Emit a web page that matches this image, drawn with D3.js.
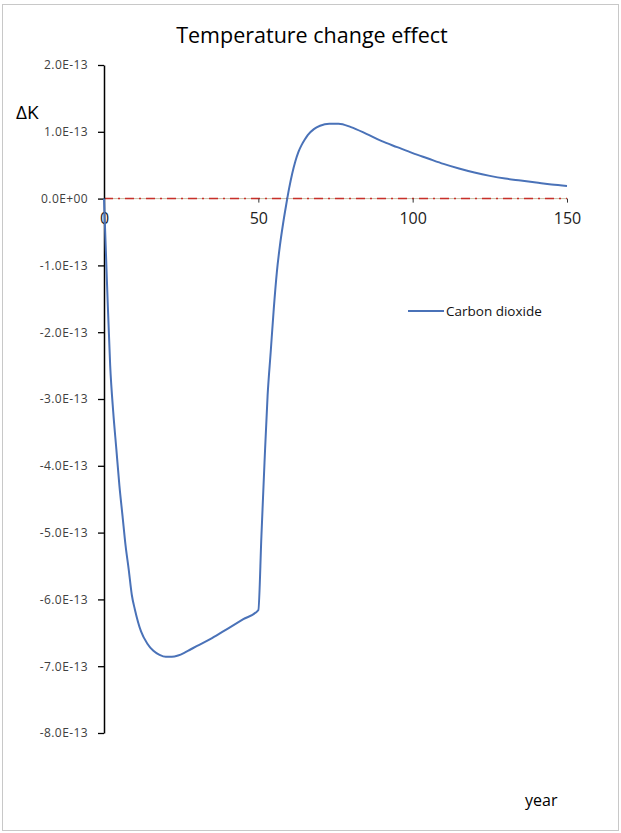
<!DOCTYPE html>
<html>
<head>
<meta charset="utf-8">
<script src="https://cdn.jsdelivr.net/npm/d3@7"></script>
<style>
	body { margin: 0; background: #fff; }
	svg { display: block; font-family: "Open Sans", "DejaVu Sans", sans-serif; }
</style>
</head>
<body>
<svg id="chart"></svg>
<script>
// values, in units of 1e-13 K
let unit = 1e-13;
let years = [0, 1, 2, 3, 4, 5, 6, 7, 8, 9, 10, 12, 14, 16, 18, 20, 22, 24, 26, 28, 30, 35, 40, 45, 50,
	51, 52, 53, 54, 55, 56, 57, 58, 59, 60, 61, 62, 63, 64, 65, 66, 68, 70, 73, 76, 80, 85, 90, 95, 100,
	105, 110, 115, 120, 125, 130, 135, 140, 145, 150];
let co2Values = [0, -1.3, -2.5, -3.2, -3.75, -4.3, -4.75, -5.2, -5.55, -5.93, -6.15, -6.48, -6.66, -6.77, -6.83, -6.86, -6.86, -6.84, -6.8, -6.75, -6.7, -6.58, -6.44, -6.3, -6.16,
	-5.05, -3.95, -2.95, -2.3, -1.65, -1.1, -0.7, -0.38, -0.1, 0.16, 0.38, 0.56, 0.7, 0.8, 0.88, 0.95, 1.04, 1.09, 1.12, 1.12, 1.07, 0.97, 0.86, 0.77, 0.68,
	0.6, 0.52, 0.45, 0.39, 0.34, 0.3, 0.27, 0.24, 0.21, 0.19];
let xTicks = [0, 50, 100, 150];
let yTicks = [2, 1, 0, -1, -2, -3, -4, -5, -6, -7, -8];
let seriesName = 'Carbon dioxide';

let width = 621, height = 833;

let svg = d3.select('#chart')
	.attr('width', width)
	.attr('height', height);

// frame
svg.append('rect')
	.attr('x', 2.5).attr('y', 4.5)
	.attr('width', 616).attr('height', 826)
	.attr('fill', '#fff')
	.attr('stroke', '#c8c8c8');

let xScale = d3.scaleLinear().domain([0, 150]).range([104, 567]);
let yScale = d3.scaleLinear().domain([-8 * unit, 2 * unit]).range([733, 65]);

// 2.0E-13 style labels (plain hyphen, not unicode minus)
function sci(v) {
	let s = d3.format('.1e')(v).replace('\u2212', '-');
	let parts = s.split('e');
	let sign = parts[1][0] === '-' || parts[1][0] === '\u2212' ? '-' : '+';
	let exp = parts[1].slice(1).padStart(2, '0');
	return parts[0] + 'E' + sign + exp;
}

// TITLE
svg.append('text')
	.attr('x', 312)
	.attr('y', 43)
	.attr('text-anchor', 'middle')
	.attr('font-size', 21.5)
	.attr('fill', '#000')
	.text('Temperature change effect');

// zero line (x axis) with red dash-dot overlay
let x0 = yScale(0);
svg.append('line')
	.attr('x1', xScale(0)).attr('x2', xScale(150))
	.attr('y1', x0).attr('y2', x0)
	.attr('stroke', '#c9bfa6')
	.attr('stroke-width', 1);
svg.append('line')
	.attr('x1', xScale(0)).attr('x2', xScale(150))
	.attr('y1', x0).attr('y2', x0)
	.attr('stroke', '#c8302a')
	.attr('stroke-width', 1.5)
	.attr('stroke-dasharray', '9,5,2,5');

// x axis ticks and labels
let xAxis = d3.axisBottom(xScale)
	.tickValues(xTicks)
	.tickSize(4)
	.tickSizeOuter(0)
	.tickFormat(d3.format('d'));
let xAxisGroup = svg.append('g')
	.attr('class', 'axis-bottom')
	.attr('transform', `translate(0, ${x0})`)
	.call(xAxis);
xAxisGroup.select('.domain').remove();
xAxisGroup.selectAll('line').attr('stroke', '#333');
xAxisGroup.selectAll('text')
	.attr('font-size', 16)
	.attr('font-family', '"Open Sans", sans-serif')
	.attr('fill', '#222')
	.attr('y', 10)
	.attr('dy', '0.95em');
xAxisGroup.selectAll('.tick').filter(d => d === 0).select('line').remove();

// y axis
let yAxis = d3.axisLeft(yScale)
	.tickValues(yTicks.map(d => d * unit))
	.tickSize(6)
	.tickSizeOuter(0)
	.tickPadding(10)
	.tickFormat(sci);
let yAxisGroup = svg.append('g')
	.attr('class', 'axis-left')
	.attr('transform', `translate(${xScale(0)}, 0)`)
	.call(yAxis);
yAxisGroup.select('.domain').attr('stroke', '#000').attr('stroke-width', 1.5);
yAxisGroup.selectAll('line').attr('stroke', '#000').attr('stroke-width', 1.3);
yAxisGroup.selectAll('text')
	.attr('font-size', 12)
	.attr('letter-spacing', 0.4)
	.attr('font-family', '"Open Sans", sans-serif')
	.attr('fill', '#404040');

// axis titles
svg.append('text')
	.attr('x', 16)
	.attr('y', 119)
	.attr('font-size', 19)
	.attr('fill', '#000')
	.text('ΔK');

svg.append('text')
	.attr('x', 525)
	.attr('y', 806)
	.attr('font-size', 16)
	.attr('fill', '#000')
	.text('year');

// series
let data = years.map((y, i) => ({ year: y, value: co2Values[i] * unit }));
let line = d3.line()
	.x(d => xScale(d.year))
	.y(d => yScale(d.value))
	.curve(d3.curveMonotoneX);

svg.append('path')
	.datum(data)
	.attr('d', line)
	.attr('fill', 'none')
	.attr('stroke', '#4a72b8')
	.attr('stroke-width', 2);

// legend
svg.append('line')
	.attr('x1', 408).attr('x2', 444)
	.attr('y1', 311).attr('y2', 311)
	.attr('stroke', '#4a72b8')
	.attr('stroke-width', 2);
svg.append('text')
	.attr('x', 446)
	.attr('y', 316)
	.attr('font-size', 13.5)
	.attr('fill', '#111')
	.text(seriesName);
</script>
</body>
</html>
